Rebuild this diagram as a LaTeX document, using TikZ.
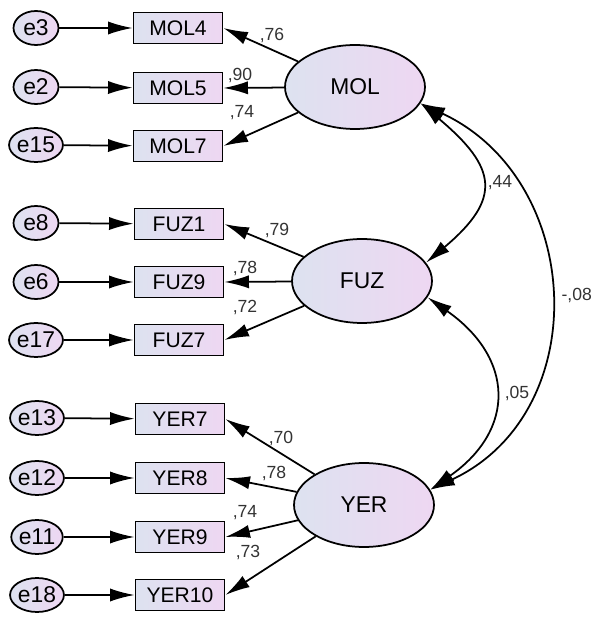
\documentclass[tikz,border=0pt]{standalone}
\usepackage{fontspec}
\setmainfont{Liberation Sans}
\usetikzlibrary{arrows.meta,shapes.geometric}

\definecolor{shadeL}{RGB}{221,226,240}
\definecolor{shadeR}{RGB}{238,215,242}

\tikzset{
  errnode/.style = {ellipse, draw, line width = 1pt, left color = shadeL, right color = shadeR,
    minimum width = 0.9cm, minimum height = 0.68cm, inner sep = 0pt, font = \fontsize{13}{14}\selectfont},
  itembox/.style = {rectangle, draw, line width = 1pt, left color = shadeL, right color = shadeR,
    minimum width = 1.78cm, minimum height = 0.62cm, inner sep = 0pt, font = \fontsize{12}{13}\selectfont},
  latentnode/.style = {ellipse, draw, line width = 1pt, left color = shadeL, right color = shadeR,
    minimum width = 2.8cm, minimum height = 1.68cm, inner sep = 0pt, font = \fontsize{13}{14}\selectfont},
  arr/.style = {-{Latex[length = 14pt, width = 7.5pt]}, line width = 1pt},
  covarr/.style = {{Latex[length = 14pt, width = 7.5pt]}-{Latex[length = 14pt, width = 7.5pt]}, line width = 1pt},
  coef/.style = {font = \fontsize{10}{11}\selectfont, text = black!80}
}

\begin{document}
\begin{tikzpicture}[x = 0.02cm, y = 0.02cm]
  \useasboundingbox (0, 0) rectangle (598, 619);

  % error terms
  \node[errnode] (e3) at (36, 591) {e3};
  \node[errnode] (e2) at (36, 532) {e2};
  \node[errnode] (e15) at (36, 474) {e15};
  \node[errnode] (e8) at (36, 396) {e8};
  \node[errnode] (e6) at (36, 337) {e6};
  \node[errnode] (e17) at (36, 279) {e17};
  \node[errnode] (e13) at (37, 201) {e13};
  \node[errnode] (e12) at (37, 141) {e12};
  \node[errnode] (e11) at (37, 82) {e11};
  \node[errnode] (e18) at (37, 24) {e18};

  % indicators
  \node[itembox] (MOL4) at (178, 591) {MOL4};
  \node[itembox] (MOL5) at (178, 531) {MOL5};
  \node[itembox] (MOL7) at (178, 473) {MOL7};
  \node[itembox] (FUZ1) at (179, 395) {FUZ1};
  \node[itembox] (FUZ9) at (179, 337) {FUZ9};
  \node[itembox] (FUZ7) at (179, 279) {FUZ7};
  \node[itembox] (YER7) at (180, 200) {YER7};
  \node[itembox] (YER8) at (180, 141) {YER8};
  \node[itembox] (YER9) at (180, 82) {YER9};
  \node[itembox] (YER10) at (180, 24) {YER10};

  % latent variables
  \node[latentnode] (MOL) at (355, 532) {MOL};
  \node[latentnode] (FUZ) at (362, 338) {FUZ};
  \node[latentnode] (YER) at (364, 114) {YER};

  \foreach \err/\item in {e3/MOL4, e2/MOL5, e15/MOL7, e8/FUZ1, e6/FUZ9, e17/FUZ7,
                          e13/YER7, e12/YER8, e11/YER9, e18/YER10}
    \draw[arr] (\err) -- (\item);

  \draw[arr] (MOL) -- (MOL4.east);
  \draw[arr] (MOL) -- (MOL5.east);
  \draw[arr] (MOL) -- (MOL7.east);
  \draw[arr] (FUZ) -- (FUZ1.east);
  \draw[arr] (FUZ) -- (FUZ9.east);
  \draw[arr] (FUZ) -- (FUZ7.east);
  \draw[arr] (YER) -- (YER7.east);
  \draw[arr] (YER) -- (YER8.east);
  \draw[arr] (YER) -- (YER9.east);
  \draw[arr] (YER) -- (YER10.east);

  % covariances
  \draw[covarr] (MOL.-14) to[out = -40, in = 40, looseness = 1.6] (FUZ.16);
  \draw[covarr] (FUZ.-14) to[out = -35, in = 35, looseness = 1.4] (YER.13);
  \draw[covarr] (MOL.-14) to[out = -25, in = 25, looseness = 1.2] (YER.13);

  \node[coef] at (272, 584) {,76};
  \node[coef] at (240, 544) {,90};
  \node[coef] at (242, 506) {,74};
  \node[coef] at (277, 389) {,79};
  \node[coef] at (245, 351) {,78};
  \node[coef] at (245, 312) {,72};
  \node[coef] at (281, 181) {,70};
  \node[coef] at (274, 146) {,78};
  \node[coef] at (245, 106) {,74};
  \node[coef] at (248, 67) {,73};
  \node[coef] at (500, 436) {,44};
  \node[coef] at (517, 226) {,05};
  \node[coef, anchor = east] at (598, 324) {-,08};
\end{tikzpicture}
\end{document}
